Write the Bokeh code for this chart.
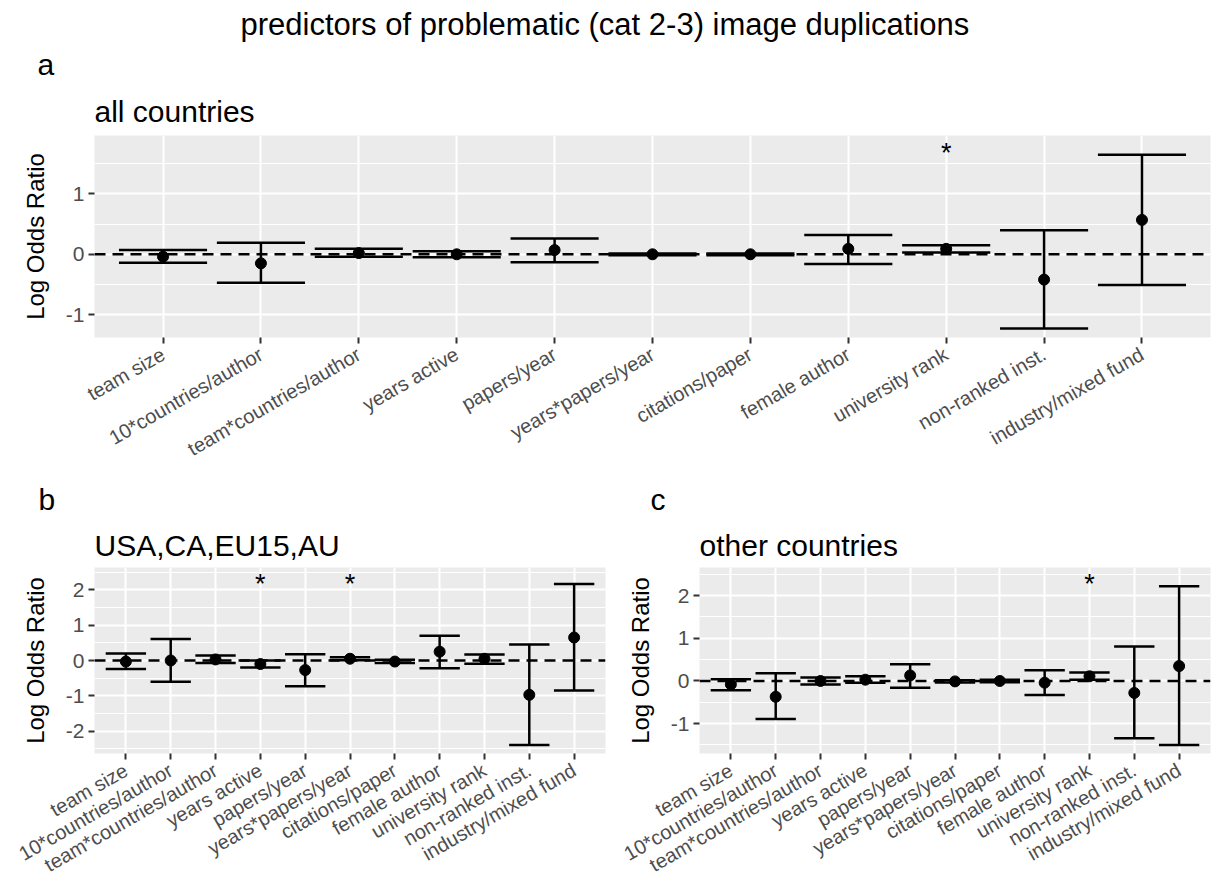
import math
from bokeh.plotting import figure
from bokeh.models import FactorRange, Range1d, Title, ColumnDataSource, Span, FixedTicker
from bokeh.transform import dodge
from bokeh.layouts import column, row
from bokeh.embed import file_html
from bokeh.resources import INLINE

FONT = "Liberation Sans"

predictors = ["team size", "10*countries/author", "team*countries/author", "years active",
              "papers/year", "years*papers/year", "citations/paper", "female author",
              "university rank", "non-ranked inst.", "industry/mixed fund"]

# panel a: all countries
a_est = [-0.04, -0.15, 0.02, 0.00, 0.07, 0.00, 0.00, 0.09, 0.09, -0.42, 0.57]
a_low = [-0.14, -0.47, -0.04, -0.05, -0.13, -0.015, -0.015, -0.16, 0.03, -1.23, -0.51]
a_high = [0.07, 0.19, 0.09, 0.05, 0.26, 0.015, 0.015, 0.32, 0.15, 0.40, 1.65]
a_star = ["", "", "", "", "", "", "", "", "*", "", ""]
a_star_y = 1.82

# panel b: USA,CA,EU15,AU
b_est = [-0.03, 0.00, 0.03, -0.10, -0.27, 0.05, -0.03, 0.25, 0.05, -0.97, 0.65]
b_low = [-0.24, -0.60, -0.07, -0.20, -0.73, 0.01, -0.07, -0.22, -0.09, -2.39, -0.85]
b_high = [0.20, 0.61, 0.14, 0.00, 0.18, 0.09, 0.02, 0.70, 0.17, 0.45, 2.16]
b_star = ["", "", "", "*", "", "*", "", "", "", "", ""]
b_star_y = 2.39

# panel c: other countries
c_est = [-0.08, -0.37, 0.00, 0.03, 0.13, -0.01, 0.00, -0.04, 0.11, -0.28, 0.35]
c_low = [-0.22, -0.89, -0.08, -0.04, -0.16, -0.035, -0.03, -0.33, 0.03, -1.34, -1.50]
c_high = [0.04, 0.18, 0.08, 0.11, 0.39, 0.015, 0.03, 0.25, 0.20, 0.81, 2.22]
c_star = ["", "", "", "", "", "", "", "", "*", "", ""]
c_star_y = 2.46

main_title = "predictors of problematic (cat 2-3) image duplications"

y_ranges = {"a": (-1.38, 1.97), "b": (-2.63, 2.63), "c": (-1.70, 2.66)}
y_ticks = {"a": [-1, 0, 1], "b": [-2, -1, 0, 1, 2], "c": [-1, 0, 1, 2]}
y_minor = {"a": [-1.5, -0.5, 0.5, 1.5], "b": [-2.5, -1.5, -0.5, 0.5, 1.5, 2.5],
           "c": [-1.5, -0.5, 0.5, 1.5, 2.5]}


def style_title(t, size, standoff, offset):
    t.text_font = FONT
    t.text_font_size = size
    t.text_font_style = "normal"
    t.text_color = "black"
    t.standoff = standoff
    t.offset = offset
    t.align = "left"


def make_panel(key, subtitle, letter, est, low, high, star, star_y,
               width, height, left, right, top, letter_offset,
               sub_standoff, letter_standoff, main=None):
    src = ColumnDataSource(dict(cat=predictors, est=est, low=low, high=high,
                                star=star, star_y=[star_y] * len(predictors)))
    outer = main if main else letter
    p = figure(x_range=FactorRange(factors=predictors, range_padding=0.2,
                                   range_padding_units="absolute"),
               y_range=Range1d(*y_ranges[key]),
               width=width, height=height, output_backend="svg", toolbar_location=None,
               min_border_left=left, min_border_right=right, min_border_top=top,
               min_border_bottom=20, title=outer)
    # subtitle closest to the frame
    p.add_layout(Title(text=subtitle), "above")
    style_title(p.above[-1], "30px", sub_standoff, 0)
    if main:
        p.add_layout(Title(text=letter), "above")
        style_title(p.above[-1], "30px", letter_standoff, letter_offset)
        style_title(p.title, "31px", 1, 146)
    else:
        style_title(p.title, "30px", letter_standoff, letter_offset)

    p.background_fill_color = "#EBEBEB"
    p.border_fill_color = "white"
    p.outline_line_color = None
    p.xgrid.grid_line_color = "white"
    p.xgrid.grid_line_width = 2
    p.ygrid.grid_line_color = "white"
    p.ygrid.grid_line_width = 2
    p.ygrid.minor_grid_line_color = "white"
    p.ygrid.minor_grid_line_width = 1

    p.yaxis.ticker = FixedTicker(ticks=y_ticks[key], minor_ticks=y_minor[key])
    p.yaxis.major_label_overrides = {t: str(t) for t in y_ticks[key]}
    for ax in (p.xaxis[0], p.yaxis[0]):
        ax.axis_line_color = None
        ax.major_tick_line_color = "#333333"
        ax.major_tick_line_width = 2
        ax.major_tick_out = 6
        ax.major_tick_in = 0
        ax.minor_tick_line_color = None
        ax.major_label_text_font = FONT
        ax.major_label_text_color = "#4D4D4D"
    p.yaxis.major_label_text_font_size = "21px"
    p.yaxis.major_label_standoff = 4
    p.yaxis.axis_label = "Log Odds Ratio"
    p.yaxis.axis_label_text_font = FONT
    p.yaxis.axis_label_text_font_size = "24px"
    p.yaxis.axis_label_text_font_style = "normal"
    p.yaxis.axis_label_text_color = "black"
    p.yaxis.axis_label_standoff = 14
    p.xaxis.major_label_orientation = math.pi / 6
    p.xaxis.major_label_text_font_size = "20px"
    p.xaxis.major_label_standoff = 9

    zero = Span(location=0, dimension="width", line_color="black", line_width=2.5,
                line_dash="11 7", level="underlay")
    p.add_layout(zero)

    p.segment(x0="cat", y0="low", x1="cat", y1="high", source=src,
              line_color="black", line_width=2.5)
    p.segment(x0=dodge("cat", -0.45, range=p.x_range), y0="high",
              x1=dodge("cat", 0.45, range=p.x_range), y1="high", source=src,
              line_color="black", line_width=2.5)
    p.segment(x0=dodge("cat", -0.45, range=p.x_range), y0="low",
              x1=dodge("cat", 0.45, range=p.x_range), y1="low", source=src,
              line_color="black", line_width=2.5)
    p.scatter(x="cat", y="est", source=src, size=11, color="black")
    p.text(x="cat", y="star_y", text="star", source=src, text_align="center",
           text_baseline="middle", text_font_size="27px", y_offset=8,
           text_color="black", text_font={"value": FONT})
    return p


pa = make_panel("a", "all countries", "a", a_est, a_low, a_high, a_star, a_star_y,
                width=1215, height=472, left=94, right=5, top=135, letter_offset=-57,
                sub_standoff=16, letter_standoff=7, main=main_title)
pb = make_panel("b", "USA,CA,EU15,AU", "b", b_est, b_low, b_high, b_star, b_star_y,
                width=607, height=416, left=94, right=2, top=95, letter_offset=-56,
                sub_standoff=11, letter_standoff=11)
pc = make_panel("c", "other countries", "c", c_est, c_low, c_high, c_star, c_star_y,
                width=608, height=416, left=92, right=5, top=95, letter_offset=-49,
                sub_standoff=11, letter_standoff=11)

layout = column(pa, row(pb, pc))
open("out.html", "w").write(file_html(layout, INLINE))
